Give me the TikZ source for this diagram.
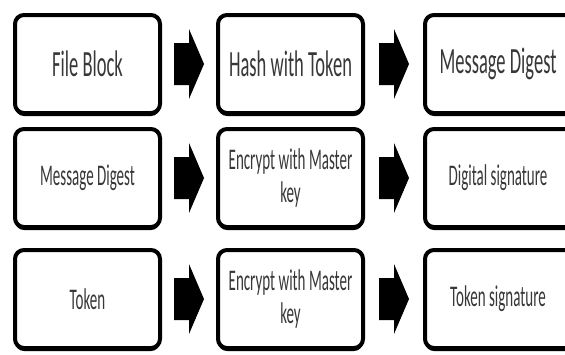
\documentclass[tikz,border=0pt]{standalone}
\usepackage{fontspec}
\usetikzlibrary{calc,shadows}
\newfontfamily\boxfont[FakeStretch=0.5]{Carlito}

% block arrow drawn in the gap between two boxes
\newcommand\blockarrow[2]{%
  \fill[black] let \p1=(#1.east), \p2=(#2.west), \n1={0.5*(\x1+\x2)} in
    (\n1-15pt,\y1+21pt) -- (\n1,\y1+21pt) -- (\n1,\y1+35pt) -- (\n1+15pt,\y1)
    -- (\n1,\y1-35pt) -- (\n1,\y1-21pt) -- (\n1-15pt,\y1-21pt) -- cycle;}

\begin{document}
\begin{tikzpicture}[x=1pt,y=-1pt,
  stepbox/.style={draw=black, line width=4pt, rounded corners=9pt, fill=white,
    minimum width=145pt, minimum height=98pt, inner sep=0pt, align=center,
    text=black!78,
    drop shadow={shadow xshift=0pt, shadow yshift=-3pt, fill=black, opacity=1}},
  widebox/.style={stepbox, minimum width=170pt, anchor=west},
  bigtext/.style={font=\boxfont\fontsize{37}{40}\selectfont},
  smalltext/.style={font=\boxfont\fontsize{30}{33}\selectfont}]
\fill[white] (0,0) rectangle (565,354);
\useasboundingbox (0,0) rectangle (565,354);
\clip (0,0) rectangle (565,354);

% first row
\node[stepbox,bigtext] (a1) at (87.5,64) {File Block};
\node[stepbox,bigtext] (a2) at (290.5,64) {Hash with Token};
\node[widebox,bigtext] (a3) at (423,64) {\hspace*{-24pt}Message Digest};

% second row
\node[stepbox,smalltext] (b1) at (87.5,178) {Message Digest};
\node[stepbox,smalltext] (b2) at (290.5,178) {Encrypt with Master\\key};
\node[widebox,smalltext] (b3) at (423,178) {\hspace*{-24pt}Digital signature};

% third row
\node[stepbox,smalltext] (c1) at (87.5,299) {Token};
\node[stepbox,smalltext] (c2) at (290.5,299) {Encrypt with Master\\key};
\node[widebox,smalltext] (c3) at (423,299) {\hspace*{-24pt}Token signature};

\blockarrow{a1}{a2}
\blockarrow{a2}{a3}
\blockarrow{b1}{b2}
\blockarrow{b2}{b3}
\blockarrow{c1}{c2}
\blockarrow{c2}{c3}
\end{tikzpicture}
\end{document}
